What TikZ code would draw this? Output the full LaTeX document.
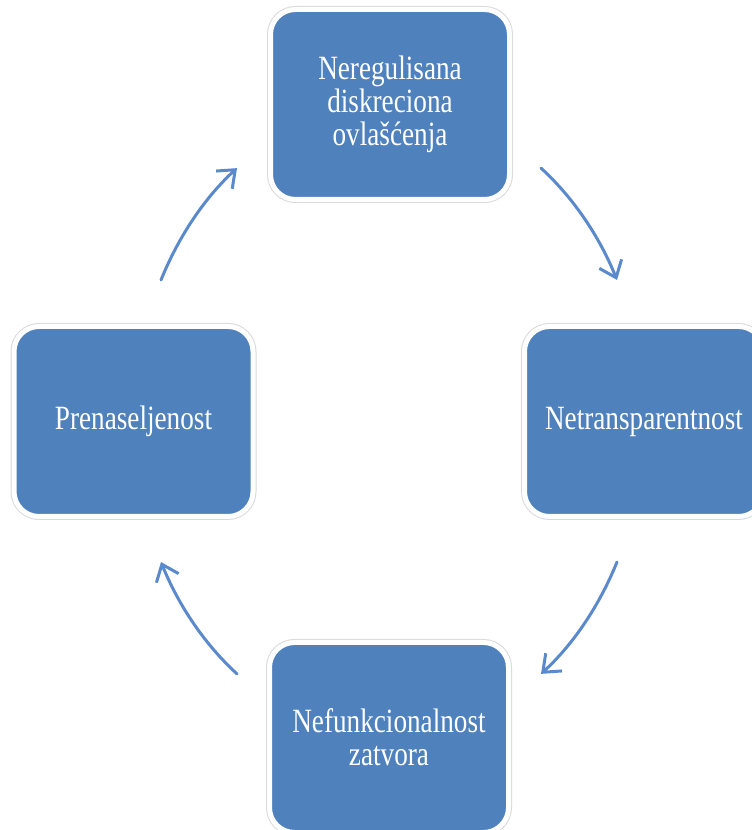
\documentclass[tikz,border=0pt]{standalone}
\usepackage{fontspec}
\newfontfamily\boxfont[FakeStretch=0.8]{Liberation Serif}
\usetikzlibrary{arrows.meta}
\definecolor{boxblue}{HTML}{4F81BD}
\definecolor{arrblue}{HTML}{5A8ACB}
\tikzset{
  cyclebox/.style={rectangle, rounded corners=25pt, minimum width=239pt, minimum height=190pt,
    fill=boxblue, draw=white, line width=5pt,
    preaction={draw=black!15, line width=7pt},
    text=white, align=center, font=\boxfont\fontsize{34}{33}\selectfont, inner sep=0pt},
  cyclearrow/.style={draw=arrblue, line width=3pt, line cap=round,
    -{Straight Barb[length=15pt,width=24pt,line width=3pt]}}
}
\begin{document}
\begin{tikzpicture}[x=1pt,y=1pt]
\useasboundingbox (0,0) rectangle (752,830);
\clip (0,0) rectangle (752,830);
\node[cyclebox] (top) at (390,725.5) {Neregulisana\\diskreciona\\ovlašćenja};
\node[cyclebox] (right) at (644,408.5) {Netransparentnost};
\node[cyclebox] (left) at (133.5,408.5) {Prenaseljenost};
\node[cyclebox] (bottom) at (389,92.5) {Nefunkcionalnost\\zatvora};
\coordinate (o) at (389,409);
\path (o) ++(53.4:255pt and 315pt) coordinate (s1);
\path (o) ++(-26.6:255pt and 315pt) coordinate (s2);
\path (o) ++(233.4:255pt and 315pt) coordinate (s3);
\path (o) ++(153.4:255pt and 315pt) coordinate (s4);
\draw[cyclearrow] (s1) arc[start angle=53.4, end angle=26.6, x radius=255pt, y radius=315pt];
\draw[cyclearrow] (s2) arc[start angle=-26.6, end angle=-53.4, x radius=255pt, y radius=315pt];
\draw[cyclearrow] (s3) arc[start angle=233.4, end angle=206.6, x radius=255pt, y radius=315pt];
\draw[cyclearrow] (s4) arc[start angle=153.4, end angle=126.6, x radius=255pt, y radius=315pt];
\end{tikzpicture}
\end{document}
